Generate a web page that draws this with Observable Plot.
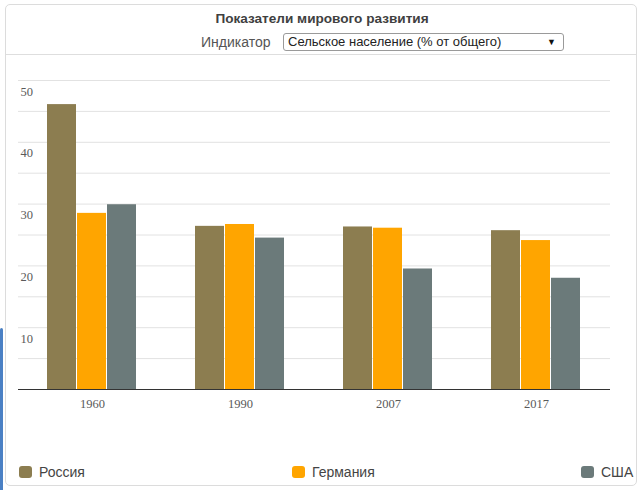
<!DOCTYPE html>
<html>
<head>
<meta charset="utf-8">
<script src="https://cdn.jsdelivr.net/npm/d3@7"></script>
<script src="https://cdn.jsdelivr.net/npm/@observablehq/plot@0.6"></script>
<style>
  html, body { margin: 0; padding: 0; background: #fff; }
  body { width: 640px; height: 490px; position: relative; overflow: hidden; font-family: "Liberation Sans", Arial, sans-serif; }
  #bluebar { position: absolute; left: 0; top: 328px; width: 3px; height: 170px; background: #4a80c4; border-radius: 2px 2px 0 0; }
  #card { position: absolute; left: 5px; top: 4px; width: 632px; height: 482px; box-sizing: border-box; border: 1px solid #dcdcdc; border-radius: 5px; }
  #title { position: absolute; left: 0; top: 6px; width: 632px; text-align: center; font-weight: bold; font-size: 13.6px; color: #404040; }
  #indlabel { position: absolute; left: 195px; top: 29px; font-size: 14px; color: #555; }
  #select { position: absolute; left: 277px; top: 28px; width: 281px; height: 18px; box-sizing: border-box; border: 1px solid #9a9a9a; border-radius: 3px; font-size: 13px; color: #222; line-height: 16px; padding-left: 4px; }
  #select .arr { position: absolute; right: 7px; top: 0px; font-size: 9px; color: #111; }
  #sep { position: absolute; left: 0; top: 49px; width: 630px; height: 1px; background: #dedede; }
  #chart { position: absolute; left: 0; top: 56px; }
  .leg { position: absolute; top: 464px; font-size: 14px; color: #444; display: flex; align-items: center; }
  .leg .sw { width: 13px; height: 12px; border-radius: 3px; margin-right: 7px; }
</style>
</head>
<body>
<div id="bluebar"></div>
<div id="card">
  <div id="title">Показатели мирового развития</div>
  <div id="indlabel">Индикатор</div>
  <div id="select">Сельское население (% от общего)<span class="arr">▼</span></div>
  <div id="sep"></div>
</div>
<div id="chart"></div>
<div id="legend"></div>
<script>
const years = ["1960", "1990", "2007", "2017"];
const countries = ["Россия", "Германия", "США"];
const russia = [46.1, 26.4, 26.3, 25.7];
const germany = [28.5, 26.7, 26.1, 24.1];
const usa = [29.9, 24.5, 19.5, 18.0];
const colors = ["#8c7d50", "#ffa500", "#6b7a7a"];
const gridTicks = [5, 10, 15, 20, 25, 30, 35, 40, 45, 50];
const labelTicks = [10, 20, 30, 40, 50];
const legendLeft = [19, 292, 581];

const series = [russia, germany, usa];
const rows = [];
years.forEach((yr, i) => {
  countries.forEach((c, j) => rows.push({year: yr, country: c, value: series[j][i]}));
});

const plot = Plot.plot({
  width: 640,
  height: 380,
  marginLeft: 17,
  marginRight: 30,
  marginTop: 24,
  marginBottom: 47,
  style: {fontFamily: "'Liberation Serif', 'Times New Roman', serif", fontSize: "12.5px", color: "#5a5a5a", background: "transparent"},
  fx: {domain: years, padding: 0, label: null, tickSize: 0, tickPadding: 10},
  x: {domain: countries, paddingInner: 0.03, paddingOuter: 0.92, axis: null},
  y: {domain: [0, 50], axis: null},
  color: {domain: countries, range: colors},
  marks: [
    Plot.ruleY(gridTicks, {stroke: "#e2e2e2", strokeWidth: 1}),
    Plot.barY(rows, {fx: "year", x: "country", y: "value", fill: "country"}),
    Plot.ruleY([0], {stroke: "#333", strokeWidth: 1.2}),
    Plot.text(labelTicks, {fx: () => years[0], y: d => d, text: d => String(d), frameAnchor: "left", textAnchor: "start", dx: 2, dy: 11, fill: "#5a5a5a"})
  ]
});
document.getElementById("chart").appendChild(plot);

const leg = document.getElementById("legend");
countries.forEach((c, i) => {
  const item = document.createElement("div");
  item.className = "leg";
  item.style.left = legendLeft[i] + "px";
  const sw = document.createElement("div");
  sw.className = "sw";
  sw.style.background = colors[i];
  const t = document.createElement("span");
  t.textContent = c;
  item.appendChild(sw);
  item.appendChild(t);
  leg.appendChild(item);
});
</script>
</body>
</html>
